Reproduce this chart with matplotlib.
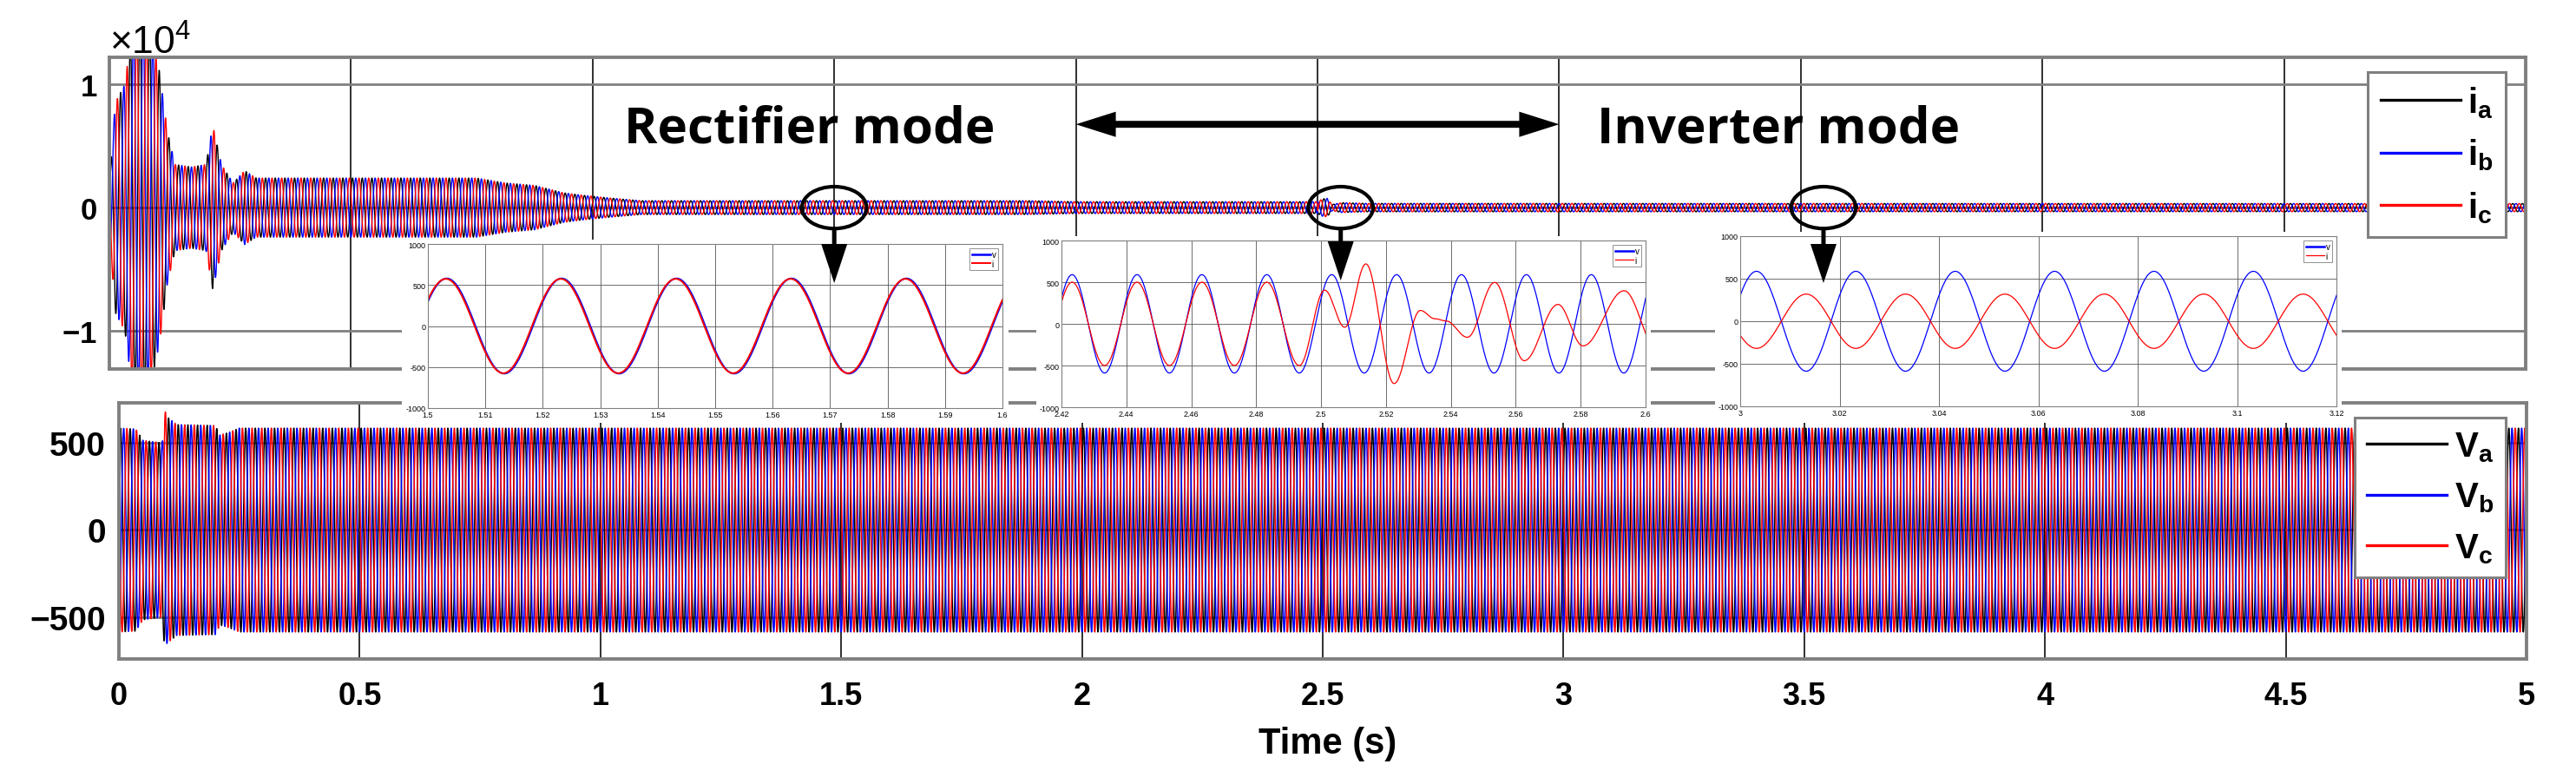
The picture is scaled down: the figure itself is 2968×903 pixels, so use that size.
import numpy as np
import matplotlib
matplotlib.use("Agg")
import matplotlib.pyplot as plt
from matplotlib.patches import Ellipse, FancyArrow, Rectangle
from matplotlib.ticker import FuncFormatter, MultipleLocator

plt.rcParams['font.family'] = ['Liberation Sans', 'DejaVu Sans']
plt.rcParams['mathtext.fontset'] = 'custom'
plt.rcParams['mathtext.rm'] = 'Liberation Sans'
plt.rcParams['mathtext.bf'] = 'Liberation Sans:bold'
plt.rcParams['mathtext.it'] = 'Liberation Sans:italic'

### values -------------------------------------------------------
f_grid = 50.0          # Hz
phase0 = 0.54          # rad, phase of phase a at t = 0
t_switch = 2.5         # s, rectifier -> inverter

# envelope of the line currents, top plot (A)
cur_env_t = [0.0, 0.012, 0.032, 0.045, 0.07, 0.09, 0.104, 0.12, 0.136, 0.17, 0.2,
             0.214, 0.232, 0.256, 0.28, 0.304, 0.76, 0.82, 0.88, 0.94, 0.98, 1.03,
             1.1, 1.9, 2.0, 2.5, 2.51, 2.52, 2.53, 2.55, 2.6, 5.0]
cur_env_a = [2000, 8500, 10000, 14000, 15000, 13500, 11000, 6200, 3500, 3300, 3500,
             6700, 3500, 2000, 3000, 2400, 2400, 2000, 1800, 1200, 1000, 800,
             560, 560, 480, 480, 700, 750, 250, 400, 340, 330]

# envelope of the phase voltages, bottom plot (V)
volt_env_t = [0.0, 0.035, 0.05, 0.09, 0.095, 0.10, 0.12, 0.20, 0.21, 0.228, 0.25, 5.0]
volt_env_a = [585, 580, 515, 500, 690, 650, 605, 600, 545, 560, 585, 585]

# zoomed views
ins_xlim = [(1.5, 1.6), (2.42, 2.6), (3.0, 3.12)]
ins_xstep = [0.01, 0.02, 0.02]
ins_v_amp = [580, 590, 587]
ins_i_amp = [575, 500, 319]
ins_i_shift = [0.05, 0.0, np.pi]     # rad, current phase vs voltage

# current extrema in the second zoom after the mode change (s, A)
i2_knot_t = [2.4933, 2.5011, 2.5073, 2.5138, 2.5225, 2.5306, 2.5350, 2.5385,
             2.5451, 2.5535, 2.5626, 2.5730, 2.5807, 2.5934, 2.6035]
i2_knot_v = [-500, 404, -41, 719, -716, 161, 62, 35,
             -161, 497, -442, 233, -264, 397, -300]

zoom_centres = [1.5, 2.548, 3.547]
cur_labels = [r'$\mathbf{i_a}$', r'$\mathbf{i_b}$', r'$\mathbf{i_c}$']
volt_labels = [r'$\mathbf{V_a}$', r'$\mathbf{V_b}$', r'$\mathbf{V_c}$']
colors = ['#000000', '#0000ff', '#ff0000']


def smooth_through(t, kt, kv):
    kt = np.asarray(kt); kv = np.asarray(kv, dtype=float)
    idx = np.clip(np.searchsorted(kt, t) - 1, 0, len(kt) - 2)
    s = (t - kt[idx]) / (kt[idx + 1] - kt[idx])
    return kv[idx] + (kv[idx + 1] - kv[idx]) * (1 - np.cos(np.pi * s)) / 2


W, H = 2968, 904
fig = plt.figure(figsize=(W / 100, H / 100), dpi=100)


def fig_box(x0, y0, x1, y1):
    return [x0 / W, 1 - y1 / H, (x1 - x0) / W, (y1 - y0) / H]


w = 2 * np.pi * f_grid
t = np.linspace(0, 5, 50001)
shifts = [0, -2 * np.pi / 3, 2 * np.pi / 3]

ax_top = fig.add_axes(fig_box(126, 67, 2910, 426))
ax_bot = fig.add_axes(fig_box(137, 465, 2911, 760))

env_i = np.interp(t, cur_env_t, cur_env_a)
sign = np.where(t < t_switch, 1.0, -1.0)
for k in range(3):
    ax_top.plot(t, sign * env_i * np.sin(w * t + phase0 + shifts[k]),
                color=colors[k], lw=1.0, label=cur_labels[k])
env_v = np.interp(t, volt_env_t, volt_env_a)
for k in range(3):
    ax_bot.plot(t, env_v * np.sin(w * t + phase0 + shifts[k]),
                color=colors[k], lw=1.1, label=volt_labels[k])

for ax in (ax_top, ax_bot):
    ax.set_xlim(0, 5)
    ax.set_xticks(np.arange(0, 5.01, 0.5))
    for sp in ax.spines.values():
        sp.set_color('#808080')
        sp.set_linewidth(2.8)
    ax.xaxis.grid(True, color='#303030', lw=1.4)
    ax.yaxis.grid(True, color='#808080', lw=2.0)
    ax.tick_params(length=0)

ax_top.set_ylim(-13100, 12200)
ax_top.set_yticks([-10000, 0, 10000])
ax_top.ticklabel_format(axis='y', style='sci', scilimits=(0, 0), useMathText=True)
ax_top.tick_params(axis='y', labelsize=25, pad=10)
ax_top.tick_params(axis='x', labelbottom=False)
ax_top.yaxis.get_offset_text().set_fontsize(32)
for lab in ax_top.get_yticklabels():
    lab.set_fontweight('bold')

ax_bot.set_ylim(-740, 730)
ax_bot.set_yticks([-500, 0, 500])
ax_bot.tick_params(axis='y', labelsize=28, pad=11)
ax_bot.tick_params(axis='x', labelsize=26, pad=18)
ax_bot.xaxis.set_major_formatter(FuncFormatter(lambda x, p: '%g' % x))
for lab in ax_bot.get_yticklabels() + ax_bot.get_xticklabels():
    lab.set_fontweight('bold')
ax_bot.set_xlabel('Time (s)', fontsize=30, fontweight='bold')
ax_bot.xaxis.set_label_coords(0.502, -0.26)

leg_kw = dict(loc='upper right', bbox_transform=fig.transFigure, borderaxespad=0,
              fancybox=False, framealpha=1, edgecolor='#808080',
              handlelength=2.3, handletextpad=0.2, labelspacing=0.5, borderpad=0.35)
leg = ax_top.legend(fontsize=29, bbox_to_anchor=(2887 / W, 1 - 84 / H), **leg_kw)
leg.get_frame().set_linewidth(2.2)
for ln in leg.get_lines():
    ln.set_linewidth(2.4)
leg = ax_bot.legend(fontsize=29, bbox_to_anchor=(2887 / W, 1 - 482 / H), **leg_kw)
leg.get_frame().set_linewidth(2.2)
for ln in leg.get_lines():
    ln.set_linewidth(2.4)

# mode annotations
ax_top.text(1.448, 5350, 'Rectifier mode', ha='center', va='baseline',
            fontsize=42, family='Open Sans', fontweight='bold', zorder=6)
ax_top.text(3.453, 5350, 'Inverter mode', ha='center', va='baseline',
            fontsize=42, family='Open Sans', fontweight='bold', zorder=6)
for end in (2.0, 3.0):
    ax_top.add_patch(FancyArrow(2.5, 6760, end - 2.5, 0, width=560, head_width=2050,
                                head_length=0.0826, length_includes_head=True,
                                color='k', lw=0, zorder=6))

for tc in zoom_centres:
    ax_top.add_patch(Ellipse((tc, 0), 0.134, 3400, fill=False, ec='k', lw=3, zorder=6))

# zoomed views
ins_box = [(493, 282, 1155, 471), (1223, 278, 1896, 470), (2005, 273, 2692, 469)]
ins_patch = [(463, 277, 1162, 488), (1194, 273, 1902, 488), (1976, 268, 2698, 488)]
ins_lw = [1.4, 0.9, 0.9]
for n in range(3):
    px0, py0, px1, py1 = ins_patch[n]
    fig.add_artist(Rectangle((px0 / W, 1 - py1 / H), (px1 - px0) / W, (py1 - py0) / H,
                             transform=fig.transFigure, fc='white', ec='none', zorder=1))
    ax = fig.add_axes(fig_box(*ins_box[n]))
    ax.set_zorder(2)
    lo, hi = ins_xlim[n]
    ti = np.linspace(lo - 0.01, hi + 0.01, 4000)
    v = ins_v_amp[n] * np.sin(w * ti + phase0)
    i = ins_i_amp[n] * np.sin(w * ti + phase0 + ins_i_shift[n])
    if n == 1:
        i = np.where(ti < i2_knot_t[0], i, smooth_through(ti, i2_knot_t, i2_knot_v))
    ax.plot(ti, v, color='#0000ff', lw=ins_lw[n], label='v')
    ax.plot(ti, i, color='#ff0000', lw=ins_lw[n], label='i')
    ax.set_xlim(lo, hi)
    ax.set_ylim(-1000, 1000)
    ax.xaxis.set_major_locator(MultipleLocator(ins_xstep[n]))
    ax.set_yticks([-1000, -500, 0, 500, 1000])
    ax.xaxis.set_major_formatter(FuncFormatter(lambda x, p: '%g' % round(x, 4)))
    ax.yaxis.set_major_formatter(FuncFormatter(lambda y, p: '%d' % y))
    ax.grid(True, color='#555555', lw=0.6)
    ax.tick_params(length=0, labelsize=6.5, pad=2)
    for sp in ax.spines.values():
        sp.set_color('#808080')
        sp.set_linewidth(0.8)
    il = ax.legend(loc='upper right', fontsize=7, handlelength=2.2, borderpad=0.25,
                   labelspacing=0.05, handletextpad=0.2, borderaxespad=0.5,
                   fancybox=False, framealpha=1, edgecolor='#808080')
    il.get_frame().set_linewidth(0.6)
    il.get_lines()[0].set_linewidth(1.8)

# arrows from the circles down into the zoomed views
fig.canvas.draw()
tips = [327, 324, 327]
for tc, tip in zip(zoom_centres, tips):
    xd, yd = ax_top.transData.transform((tc, -1700))
    x_in = xd / fig.dpi
    y0_in = yd / fig.dpi
    y1_in = (H - tip) / 100
    fig.add_artist(FancyArrow(x_in, y0_in, 0, y1_in - y0_in, width=0.05, head_width=0.30,
                              head_length=0.45, length_includes_head=True, color='k',
                              lw=0, transform=fig.dpi_scale_trans, zorder=3))

fig.savefig('out.png', dpi=100)
